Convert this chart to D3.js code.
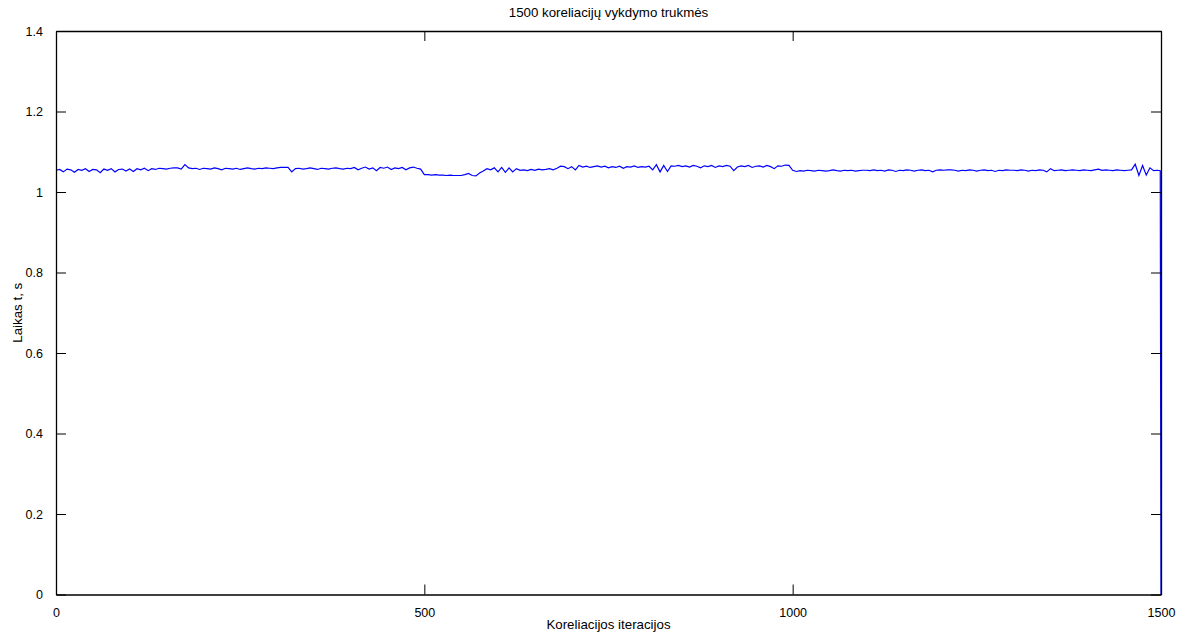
<!DOCTYPE html>
<html>
<head>
<meta charset="utf-8">
<script src="https://cdn.jsdelivr.net/npm/d3@7"></script>
<style>
  html, body { margin: 0; padding: 0; background: #fff; }
  svg { display: block; }
  text { font-family: "Liberation Sans", Arial, sans-serif; fill: #000; }
</style>
</head>
<body>
<svg id="chart" width="1189" height="637"></svg>
<script>
const title = "1500 koreliacijų vykdymo trukmės";
const xLabel = "Koreliacijos iteracijos";
const yLabel = "Laikas t, s";
const xTicks = [0, 500, 1000, 1500];
const yTicks = [0, 0.2, 0.4, 0.6, 0.8, 1, 1.2, 1.4];
const yTickLabels = ["0", "0.2", "0.4", "0.6", "0.8", "1", "1.2", "1.4"];
const iterStep = 5;
// execution time (s), sampled every 5 iterations (0 .. 1495)
const times = [
  1.054,1.056,1.050,1.057,1.055,1.049,1.056,1.054,1.058,1.051,1.056,1.055,1.048,1.057,1.054,1.058,1.050,1.056,1.057,1.052,
  1.057,1.051,1.058,1.055,1.059,1.053,1.058,1.056,1.059,1.058,1.057,1.059,1.060,1.060,1.057,1.068,1.060,1.058,1.059,1.056,
  1.059,1.058,1.057,1.060,1.058,1.055,1.059,1.058,1.057,1.059,1.056,1.058,1.060,1.058,1.057,1.059,1.058,1.060,1.059,1.058,
  1.060,1.061,1.061,1.061,1.050,1.058,1.059,1.057,1.058,1.060,1.058,1.056,1.059,1.058,1.057,1.059,1.060,1.058,1.057,1.059,
  1.058,1.061,1.055,1.059,1.062,1.057,1.060,1.053,1.061,1.059,1.062,1.056,1.060,1.058,1.061,1.055,1.060,1.062,1.059,1.057,
  1.043,1.043,1.042,1.043,1.042,1.042,1.041,1.042,1.041,1.041,1.041,1.043,1.046,1.041,1.040,1.047,1.052,1.058,1.055,1.060,
  1.050,1.061,1.049,1.060,1.050,1.058,1.054,1.055,1.053,1.056,1.054,1.057,1.055,1.056,1.058,1.055,1.059,1.064,1.063,1.058,
  1.063,1.055,1.066,1.062,1.064,1.061,1.063,1.065,1.062,1.064,1.060,1.063,1.061,1.064,1.059,1.063,1.062,1.065,1.061,1.063,
  1.062,1.064,1.055,1.068,1.050,1.066,1.051,1.065,1.064,1.066,1.063,1.065,1.062,1.066,1.064,1.060,1.065,1.063,1.066,1.061,
  1.065,1.063,1.066,1.064,1.053,1.062,1.065,1.063,1.066,1.061,1.064,1.065,1.062,1.066,1.063,1.058,1.065,1.064,1.067,1.066,
  1.054,1.051,1.053,1.052,1.054,1.053,1.052,1.054,1.053,1.052,1.053,1.055,1.053,1.052,1.054,1.053,1.054,1.052,1.053,1.054,
  1.054,1.053,1.055,1.053,1.054,1.052,1.055,1.054,1.051,1.054,1.053,1.055,1.054,1.052,1.054,1.055,1.053,1.054,1.050,1.054,
  1.055,1.054,1.055,1.055,1.054,1.052,1.054,1.053,1.055,1.054,1.052,1.054,1.055,1.053,1.054,1.051,1.054,1.053,1.055,1.054,
  1.054,1.053,1.055,1.054,1.052,1.054,1.053,1.055,1.054,1.050,1.058,1.053,1.054,1.055,1.053,1.054,1.055,1.054,1.053,1.055,
  1.054,1.053,1.055,1.057,1.054,1.055,1.054,1.053,1.055,1.054,1.053,1.054,1.055,1.069,1.041,1.066,1.042,1.060,1.053,1.054
];
// last two iterations: the final entry of the record is zero
const tailIters = [1499, 1500];
const tailTimes = [1.053, 0];

const svg = d3.select("#chart");
const m = { left: 56, right: 1161, top: 31, bottom: 594.5 };

const x = d3.scaleLinear().domain([0, 1500]).range([m.left, m.right]);
const y = d3.scaleLinear().domain([0, 1.4]).range([m.bottom, m.top]);

const data = times.map((v, i) => ({ it: i * iterStep, v }))
  .concat(tailIters.map((it, i) => ({ it, v: tailTimes[i] })));

// data line
const line = d3.line().x(d => x(d.it)).y(d => y(d.v));
svg.append("path")
  .datum(data)
  .attr("fill", "none")
  .attr("stroke", "#0000ff")
  .attr("stroke-width", 1.2)
  .attr("d", line);

const tickLen = 10;
const tickFont = 12.5;
// axes (inward ticks on all sides)
const axB = svg.append("g").attr("transform", `translate(0,${m.bottom})`)
  .call(d3.axisBottom(x).tickValues(xTicks).tickSizeInner(-tickLen).tickSizeOuter(0).tickPadding(tickLen + 4).tickFormat(d3.format("d")));
const axT = svg.append("g").attr("transform", `translate(0,${m.top})`)
  .call(d3.axisTop(x).tickValues(xTicks).tickSizeInner(-tickLen).tickSizeOuter(0).tickFormat(""));
const axL = svg.append("g").attr("transform", `translate(${m.left},0)`)
  .call(d3.axisLeft(y).tickValues(yTicks).tickSizeInner(-tickLen).tickSizeOuter(0).tickPadding(tickLen + 3)
    .tickFormat((d, i) => yTickLabels[i]));
const axR = svg.append("g").attr("transform", `translate(${m.right},0)`)
  .call(d3.axisRight(y).tickValues(yTicks).tickSizeInner(-tickLen).tickSizeOuter(0).tickFormat(""));

[axB, axT, axL, axR].forEach(g => {
  g.selectAll("path.domain").attr("stroke", "#000").attr("stroke-width", 1.3);
  g.selectAll(".tick line").attr("stroke", "#000").attr("stroke-width", 1);
  g.selectAll("text").attr("font-family", "'Liberation Sans', Arial, sans-serif").attr("font-size", tickFont).attr("fill", "#000");
});

// title and labels
svg.append("text").attr("x", (m.left + m.right) / 2).attr("y", 17)
  .attr("text-anchor", "middle").attr("font-size", 13.3).text(title);
svg.append("text").attr("x", (m.left + m.right) / 2).attr("y", 629)
  .attr("text-anchor", "middle").attr("font-size", 13.3).text(xLabel);
svg.append("text").attr("transform", `translate(22,${(m.top + m.bottom) / 2}) rotate(-90)`)
  .attr("text-anchor", "middle").attr("font-size", 13.3).text(yLabel);
</script>
</body>
</html>
